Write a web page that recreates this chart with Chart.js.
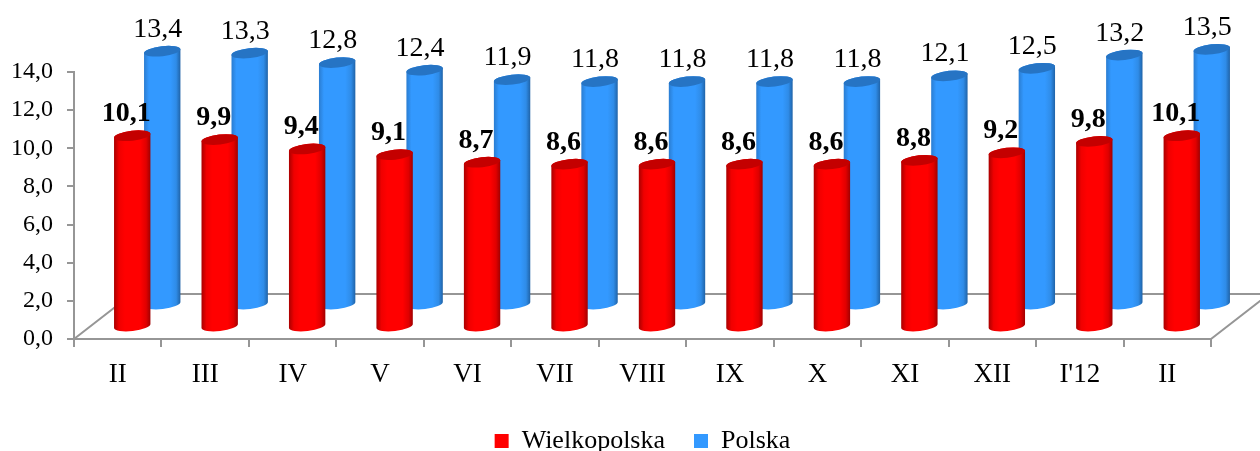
<!DOCTYPE html>
<html>
<head>
<meta charset="utf-8">
<title>Wielkopolska / Polska</title>
<script src="https://cdn.jsdelivr.net/npm/chart.js@4"></script>
<style>
  html, body { margin: 0; padding: 0; background: #fff; overflow: hidden; }
  canvas { display: block; }
</style>
</head>
<body>
<canvas id="chart" width="1260" height="451"></canvas>
<script>
const months = ['II', 'III', 'IV', 'V', 'VI', 'VII', 'VIII', 'IX', 'X', 'XI', 'XII', "I'12", 'II'];
const wielkopolska = [10.1, 9.9, 9.4, 9.1, 8.7, 8.6, 8.6, 8.6, 8.6, 8.8, 9.2, 9.8, 10.1];
const polska = [13.4, 13.3, 12.8, 12.4, 11.9, 11.8, 11.8, 11.8, 11.8, 12.1, 12.5, 13.2, 13.5];

const FONT = '"Liberation Serif", "Times New Roman", serif';
const AXIS_GRAY = '#969696';

// pseudo 3D look per dataset: shift into the depth of the floor
const looks = [
    { dx: 14.5, baseUp: 12, top: '#c40000', stops: ['#a80000', '#f00000', '#ff0000', '#ff0000', '#e00000', '#a00000'], labelDx: -6, bold: true },
    { dx: 44.5, baseUp: 34, top: '#2674c4', stops: ['#2a7cd0', '#3399ff', '#3399ff', '#3399ff', '#2f8ce8', '#1f62a6'], labelDx: -4.5, bold: false }
];
const RX = 18.3, RY = 5, TILT = -0.11, HEIGHT_K = 0.993;

function decimalComma(v) {
    return v.toFixed(1).replace('.', ',');
}

function drawCylinder(ctx, cx, baseY, topY, look) {
    const grad = ctx.createLinearGradient(cx - RX, 0, cx + RX, 0);
    const pos = [0, 0.14, 0.3, 0.72, 0.88, 1];
    look.stops.forEach((c, i) => grad.addColorStop(pos[i], c));

    ctx.beginPath();
    ctx.ellipse(cx, baseY, RX, RY, TILT, 0, Math.PI);
    ctx.ellipse(cx, topY, RX, RY, TILT, Math.PI, 0);
    ctx.closePath();
    ctx.fillStyle = grad;
    ctx.fill();

    ctx.beginPath();
    ctx.ellipse(cx, topY, RX, RY, TILT, 0, Math.PI * 2);
    ctx.fillStyle = look.top;
    ctx.fill();
}

const cylinders = {
    id: 'cylinders',
    // floor of the 3D box
    beforeDatasetsDraw(chart) {
        const ctx = chart.ctx, a = chart.chartArea;
        const depthX = 58, depthY = 45;
        ctx.save();
        ctx.strokeStyle = AXIS_GRAY;
        ctx.lineWidth = 2;
        ctx.beginPath();
        ctx.moveTo(a.left, a.bottom);
        ctx.lineTo(a.left + depthX, a.bottom - depthY);
        ctx.lineTo(a.right + depthX, a.bottom - depthY);
        ctx.lineTo(a.right, a.bottom);
        ctx.stroke();
        ctx.restore();
    },
    // bars replaced by cylinders, the elements only give the positions
    beforeDatasetDraw(chart, args) {
        const ctx = chart.ctx, look = looks[args.index];
        ctx.save();
        args.meta.data.forEach(el => {
            const h = (el.base - el.y) * HEIGHT_K;
            const baseY = el.base - look.baseUp;
            drawCylinder(ctx, el.x + look.dx, baseY, baseY - h, look);
        });
        ctx.restore();
        return false;
    },
    afterDatasetsDraw(chart) {
        const ctx = chart.ctx;
        ctx.save();
        ctx.textAlign = 'center';
        ctx.textBaseline = 'alphabetic';
        ctx.fillStyle = '#000';
        [1, 0].forEach(i => {
            const look = looks[i];
            const meta = chart.getDatasetMeta(i);
            const values = chart.data.datasets[i].data;
            ctx.font = (look.bold ? 'bold ' : '') + '28px ' + FONT;
            meta.data.forEach((el, j) => {
                const h = (el.base - el.y) * HEIGHT_K;
                const topY = el.base - look.baseUp - h;
                ctx.fillText(decimalComma(values[j]), el.x + look.dx + look.labelDx, topY - 14.5);
            });
        });
        ctx.restore();
    }
};

new Chart(document.getElementById('chart'), {
    type: 'bar',
    data: {
        labels: months,
        datasets: [
            { label: 'Wielkopolska', data: wielkopolska, backgroundColor: '#ff0000', borderWidth: 0 },
            { label: 'Polska', data: polska, backgroundColor: '#3399ff', borderWidth: 0 }
        ]
    },
    plugins: [cylinders],
    options: {
        responsive: false,
        animation: false,
        layout: { padding: { top: 72, right: 49, bottom: -13, left: 0 } },
        datasets: { bar: { grouped: false, barThickness: 36 } },
        scales: {
            x: {
                afterFit(axis) { axis.height = 60; },
                grid: { drawOnChartArea: false, tickLength: 8, tickColor: AXIS_GRAY, lineWidth: 2 },
                border: { color: AXIS_GRAY, width: 2 },
                ticks: { color: '#000', padding: 12, maxRotation: 0, autoSkip: false, font: { family: FONT, size: 27 } }
            },
            y: {
                min: 0,
                max: 14,
                afterFit(axis) { axis.width = 74; },
                grid: { drawOnChartArea: false, tickLength: 7, tickColor: AXIS_GRAY, lineWidth: 2 },
                border: { color: AXIS_GRAY, width: 2 },
                ticks: {
                    stepSize: 2,
                    color: '#000',
                    padding: 14,
                    font: { family: FONT, size: 24 },
                    callback: v => decimalComma(v)
                }
            }
        },
        plugins: {
            tooltip: { enabled: false },
            legend: {
                position: 'bottom',
                fullSize: false,
                labels: {
                    boxWidth: 14,
                    boxHeight: 14,
                    padding: 29,
                    color: '#000',
                    font: { family: FONT, size: 26 }
                }
            }
        }
    }
});
</script>
</body>
</html>
